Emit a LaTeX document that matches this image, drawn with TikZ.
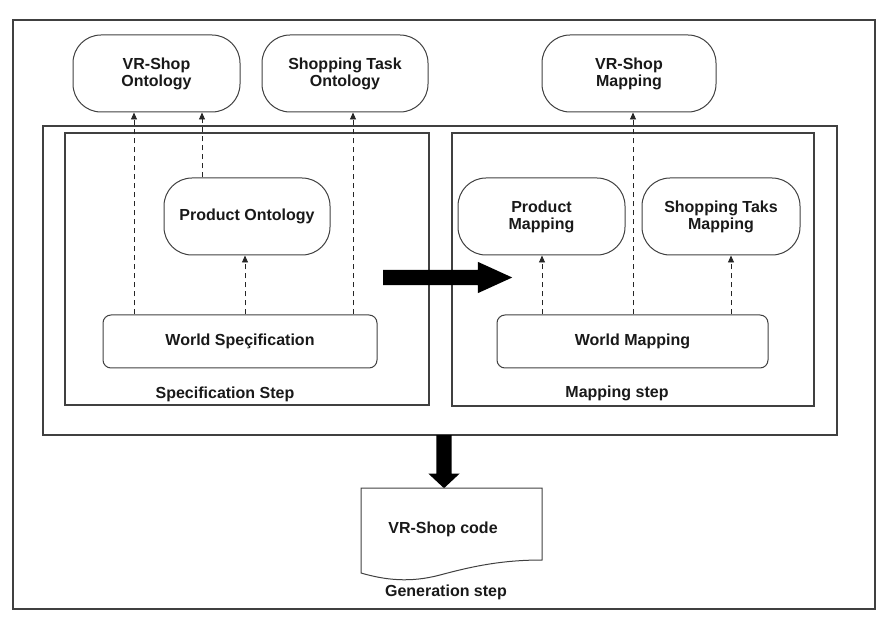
\documentclass[tikz,border=0pt]{standalone}
\usepackage{fontspec}
\setmainfont{Liberation Sans}
\usetikzlibrary{arrows.meta,shapes.arrows}

\begin{document}
\begin{tikzpicture}[x=1pt, y=-1pt,
  every node/.style={font=\fontsize{16}{17}\selectfont\bfseries, text=black!90},
  frame/.style={draw=black!75, line width=1.1pt},
  onto/.style={draw=black!75, line width=1pt, rounded corners=28pt, align=center, minimum height=77pt, inner sep=0pt},
  world/.style={draw=black!75, line width=1pt, rounded corners=8pt, minimum height=53pt, inner sep=0pt},
  dep/.style={draw=black!85, line width=0.9pt, dash pattern=on 5pt off 4pt, -{Triangle[length=7pt,width=6pt]}},
  block/.style={single arrow, fill=black, draw=none, inner xsep=0pt, inner ysep=7.5pt, single arrow head extend=8pt, anchor=tail}]
\useasboundingbox (0,0) rectangle (892,636);

% Rahmen
\draw[frame] (13,20) rectangle (875,609);
\draw[frame] (43,126) rectangle (837,435);
\draw[frame] (65,133) rectangle (429,405);
\draw[frame] (452,133) rectangle (814,406);
\node (specLbl) at (225,394) {Specification Step};
\node (mapLbl) at (617,393) {Mapping step};

% Ontologien / Mappings
\node[onto, minimum width=167pt] (vrOnt) at (156.5,73.5) {VR-Shop\\Ontology};
\node[onto, minimum width=166pt] (taskOnt) at (345,73.5) {Shopping Task\\Ontology};
\node[onto, minimum width=174pt] (vrMap) at (629,73.5) {VR-Shop\\Mapping};
\node[onto, minimum width=166pt] (prodOnt) at (247,216.5) {Product Ontology};
\node[onto, minimum width=167pt] (prodMap) at (541.5,216.5) {Product\\Mapping};
\node[onto, minimum width=158pt] (taskMap) at (721,216.5) {Shopping Taks\\Mapping};

% Welt
\node[world, minimum width=274pt] (worldSpec) at (240,341.5) {World Speçification};
\node[world, minimum width=271pt] (worldMap) at (632.5,341.5) {World Mapping};

% Abhaengigkeiten
\draw[dep] ([xshift=-106pt]worldSpec.north) -- ([xshift=-106pt]worldSpec.north |- vrOnt.south);
\draw[dep] ([xshift=-45pt]prodOnt.north) -- ([xshift=-45pt]prodOnt.north |- vrOnt.south);
\draw[dep] ([xshift=113pt]worldSpec.north) -- ([xshift=113pt]worldSpec.north |- taskOnt.south);
\draw[dep] ([xshift=5pt]worldSpec.north) -- ([xshift=5pt]worldSpec.north |- prodOnt.south);
\draw[dep] ([xshift=-90.5pt]worldMap.north) -- ([xshift=-90.5pt]worldMap.north |- prodMap.south);
\draw[dep] ([xshift=0.5pt]worldMap.north) -- ([xshift=0.5pt]worldMap.north |- vrMap.south);
\draw[dep] ([xshift=98.5pt]worldMap.north) -- ([xshift=98.5pt]worldMap.north |- taskMap.south);

% Schritte
\node[block, minimum height=129pt, single arrow tip angle=49] (stepArrow) at (383,277.5) {};
\node[block, minimum height=53pt, single arrow tip angle=94, rotate=-90] (genArrow) at (444,435) {};

% Code
\draw[frame, line width=1pt] (361,573) -- (361,488) -- (542,488) -- (542,560)
  .. controls (500,560) and (470,567) .. (440,575)
  .. controls (410,583) and (385,580) .. cycle;
\node (code) at (443,529) {VR-Shop code};
\node (genLbl) at (446,592) {Generation step};

\end{tikzpicture}
\end{document}
